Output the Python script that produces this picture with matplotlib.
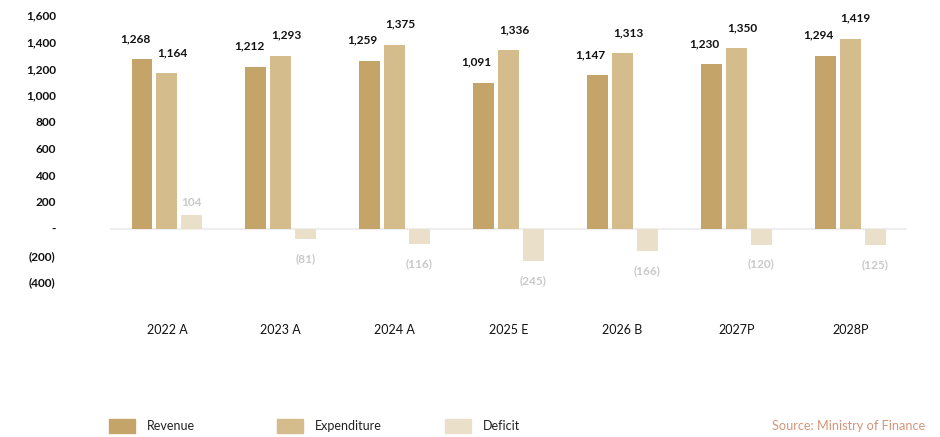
import matplotlib.pyplot as plt
import numpy as np
from matplotlib.patches import Rectangle

plt.rcParams["font.family"] = ["Lato", "DejaVu Sans"]

years = ["2022 A", "2023 A", "2024 A", "2025 E", "2026 B", "2027P", "2028P"]
revenue = [1268, 1212, 1259, 1091, 1147, 1230, 1294]
expenditure = [1164, 1293, 1375, 1336, 1313, 1350, 1419]
deficit = [104, -81, -116, -245, -166, -120, -125]
series_names = ["Revenue", "Expenditure", "Deficit"]
series_colors = ["#C4A469", "#D5BC8C", "#EAE0C9"]
y_ticks = [-400, -200, 0, 200, 400, 600, 800, 1000, 1200, 1400, 1600]


def fmt(v):
    if v == 0:
        return "-"
    if v < 0:
        return f"({abs(v):,})"
    return f"{v:,}"


fig = plt.figure(figsize=(9.4, 4.37), dpi=100)
ax = fig.add_axes([0.117, 0.3547, 0.848, 0.611])

x = np.arange(len(years))
w = 0.184
step = 0.219

ax.axhline(0, color="#EEEEEE", lw=1.6, zorder=1)
ax.bar(x - step, revenue, w, color=series_colors[0], zorder=2)
ax.bar(x, expenditure, w, color=series_colors[1], zorder=2)
ax.bar(x + step, deficit, w, color=series_colors[2], zorder=2)

# value labels
lab = dict(ha="center", va="center", fontsize=8.6, fontweight="bold",
           textcoords="offset points")
for xi, v in zip(x, revenue):
    ax.annotate(fmt(v), (xi - step, v), xytext=(-5, 15), color="#111111", **lab)
for xi, v in zip(x, expenditure):
    ax.annotate(fmt(v), (xi, v), xytext=(4, 15), color="#111111", **lab)
for xi, v in zip(x, deficit):
    dy = 9 if v > 0 else -14
    ax.annotate(fmt(v), (xi + step, v), xytext=(0, dy), color="#C9C9C9", **lab)

ax.set_xlim(-0.5, len(years) - 0.5)
ax.set_ylim(-400, 1600)
ax.set_yticks(y_ticks)
ax.set_yticklabels([fmt(v) for v in y_ticks], fontsize=8.6, fontweight="bold", color="#111111")
ax.set_xticks(x)
ax.set_xticklabels(years, fontsize=9, color="#111111")
ax.tick_params(axis="y", length=0, pad=39)
ax.tick_params(axis="x", length=0, pad=30)
for s in ax.spines.values():
    s.set_visible(False)

# legend row along the bottom
for i, (name, col) in enumerate(zip(series_names, series_colors)):
    x0 = 109 + i * 168
    fig.patches.append(Rectangle((x0 / 940, 1 - 433 / 437), 26 / 940, 14 / 437,
                                 transform=fig.transFigure, color=col))
    fig.text((x0 + 38) / 940, 1 - 426 / 437, name, fontsize=9, color="#222222",
             va="center", ha="left")

fig.text(925 / 940, 1 - 426 / 437, "Source: Ministry of Finance", fontsize=9.2,
         color="#D4967A", va="center", ha="right")

fig.savefig("out.png", dpi=100)
